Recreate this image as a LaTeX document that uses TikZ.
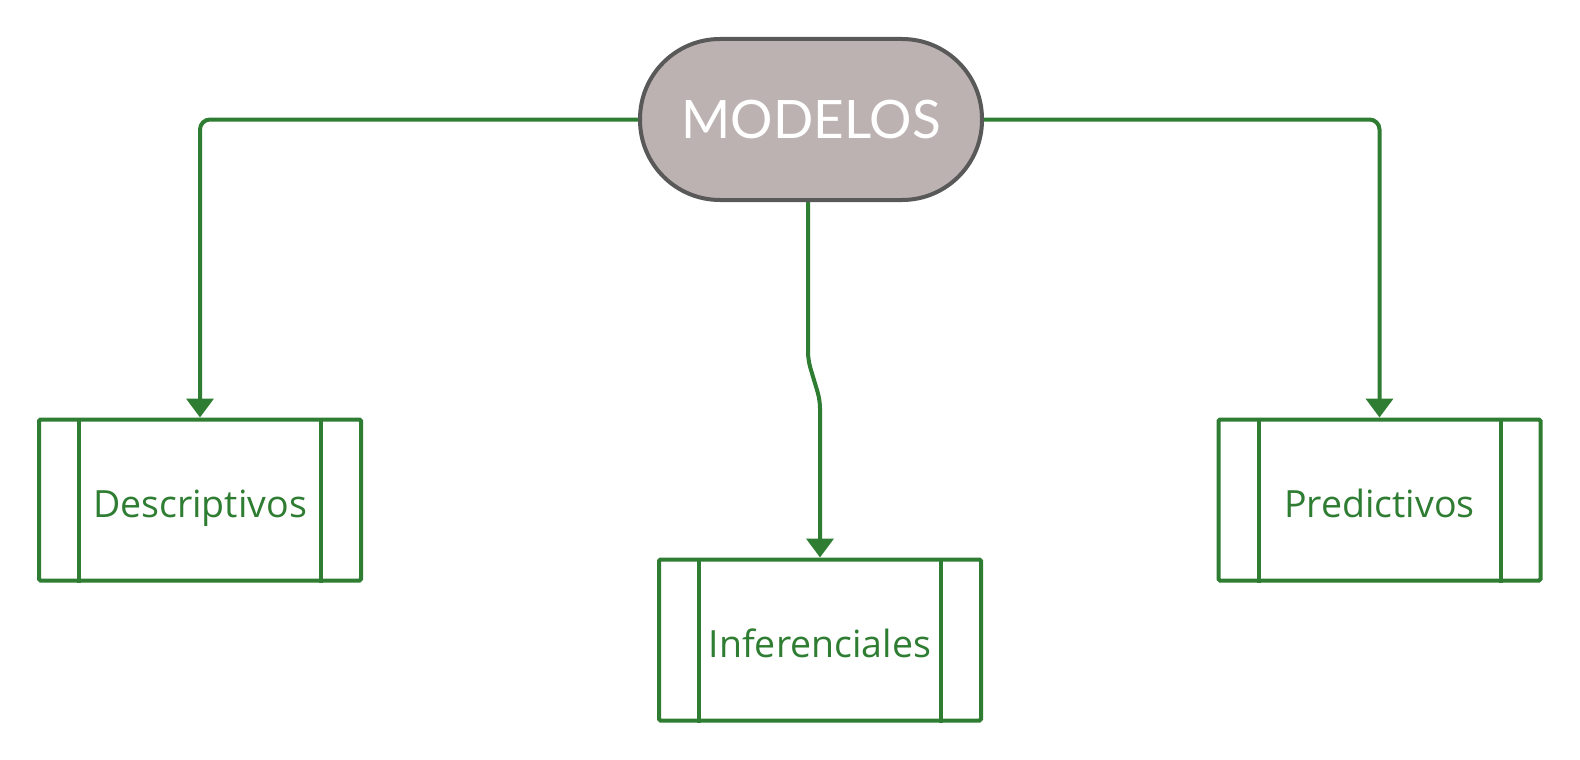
\documentclass[tikz,border=0pt]{standalone}
\usepackage{fontspec}
\setmainfont{Open Sans}
\newfontfamily\latofont{Lato}
\usetikzlibrary{arrows.meta}
\definecolor{grn}{HTML}{2E7D32}
\definecolor{stfill}{HTML}{BCB2B1}
\definecolor{stline}{HTML}{595959}
\tikzset{
  stadium/.style={draw=stline, fill=stfill, line width=4pt, rounded corners=80pt,
    minimum width=342pt, minimum height=161pt, inner sep=0pt,
    text=white, font=\latofont\fontsize{53}{60}\selectfont},
  procbox/.style={draw=grn, line width=4pt, rounded corners=1.5pt,
    minimum width=322pt, minimum height=161pt, inner sep=0pt,
    text height=40pt, text depth=6pt,
    text=grn, font=\fontsize{37.5}{44}\selectfont},
  innerline/.style={draw=grn, line width=4pt},
  conn/.style={draw=grn, line width=4pt, rounded corners=10pt,
    -{Triangle[length=19pt,width=27pt]}}
}
\begin{document}
\begin{tikzpicture}[x=1pt,y=-1pt]
\useasboundingbox[fill=white] (0,0) rectangle (1580,760);
\node[stadium] (m) at (811,119.5) {MODELOS};
\node[procbox] (d) at (200,500) {Descriptivos};
\node[procbox] (p) at (1379.5,500) {Predictivos};
\node[procbox] (i) at (820,640) {Inferenciales};
\foreach \n in {d,p,i}{
  \draw[innerline] ([xshift=42pt]\n.north west) -- ([xshift=42pt]\n.south west);
  \draw[innerline] ([xshift=-42pt]\n.north east) -- ([xshift=-42pt]\n.south east);
}
\coordinate (j1) at (808,360);
\coordinate (j2) at (820,400);
\draw[conn] (m.west) -| (d.north);
\draw[conn] (m.east) -| (p.north);
\draw[conn, rounded corners=8pt] ([xshift=-3pt]m.south) -- (j1) -- (j2) -- (i.north);
\end{tikzpicture}
\end{document}
